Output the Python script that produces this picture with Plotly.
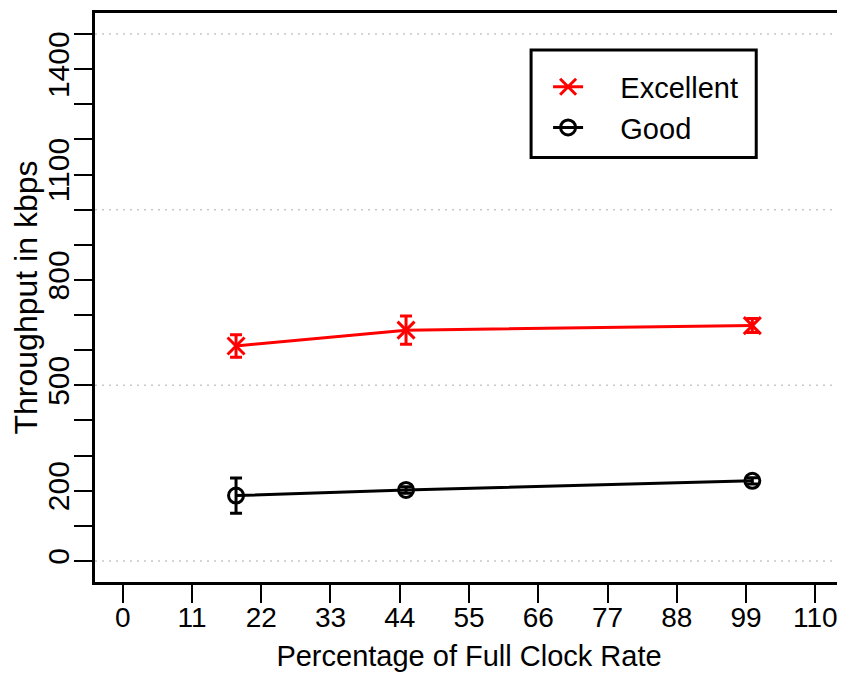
import plotly.graph_objects as go

# Data
clock_pct = [18, 45, 100]
excellent = [612, 657, 670]
excellent_err = [32, 40, 20]
good = [186, 202, 228]
good_err = [50, 9, 9]

x_ticks = [0, 11, 22, 33, 44, 55, 66, 77, 88, 99, 110]
y_ticks = list(range(0, 1600, 100))
y_labeled = [0, 200, 500, 800, 1100, 1400]
y_grid = [0, 500, 1000, 1500]

FONT = "Liberation Sans, Arial, Helvetica, sans-serif"
NB = "\u00a0" * 4

fig = go.Figure()
fig.add_trace(go.Scatter(
    x=clock_pct, y=excellent, name=NB + "Excellent", mode="lines+markers",
    line=dict(color="#ff0000", width=3),
    marker=dict(symbol="x-thin-open", size=17, line=dict(color="#ff0000", width=3)),
    error_y=dict(type="data", array=excellent_err, visible=True,
                 color="#ff0000", thickness=3, width=6),
))
fig.add_trace(go.Scatter(
    x=clock_pct, y=good, name=NB + "Good", mode="lines+markers",
    line=dict(color="black", width=3),
    marker=dict(symbol="circle-open", size=15, line=dict(color="black", width=3)),
    error_y=dict(type="data", array=good_err, visible=True,
                 color="black", thickness=3, width=6),
))

shapes = []
for g in y_grid:
    shapes.append(dict(type="line", xref="paper", x0=0, x1=1, yref="y", y0=g, y1=g,
                       line=dict(color="#c8c8c8", width=1.5, dash="2px,5px"), layer="below"))
# legend box
shapes.append(dict(type="rect", xref="paper", yref="paper",
                   x0=0.583, x1=0.884, y0=0.746, y1=0.935,
                   line=dict(color="black", width=3), fillcolor="white", layer="below"))

# page body adds an 8px offset; figure is sized/margined to compensate
fig.update_layout(
    width=837, height=665,
    margin=dict(l=87, r=2, t=5, b=91),
    paper_bgcolor="white", plot_bgcolor="white",
    font=dict(family=FONT, size=28, color="black"),
    showlegend=True,
    legend=dict(x=0.583, y=0.915, xanchor="left", yanchor="top",
                bgcolor="rgba(0,0,0,0)", borderwidth=0,
                font=dict(size=29), indentation=17,
                tracegroupgap=0),
    shapes=shapes,
    xaxis=dict(range=[-4.4, 114.4], tickvals=x_ticks, ticktext=[str(v) for v in x_ticks],
               showgrid=False, zeroline=False, showline=True, mirror=True,
               automargin=False,
               linecolor="black", linewidth=3, ticks="outside", ticklen=18,
               tickwidth=2, tickcolor="black", ticklabelstandoff=-10,
               title=dict(text="Percentage of Full Clock Rate", standoff=15, font=dict(size=29)),
               tickfont=dict(size=28)),
    yaxis=dict(range=[-60, 1560], tickvals=y_ticks,
               ticktext=[str(v) if v in y_labeled else "" for v in y_ticks],
               tickangle=-90, automargin=False,
               showgrid=False, zeroline=False, showline=True, mirror=True,
               linecolor="black", linewidth=3, ticks="outside", ticklen=18,
               tickwidth=2, tickcolor="black", ticklabelstandoff=-7,
               title=dict(text="Throughput in kbps", standoff=6, font=dict(size=32)),
               tickfont=dict(size=30)),
)

fig.write_html("out.html")
